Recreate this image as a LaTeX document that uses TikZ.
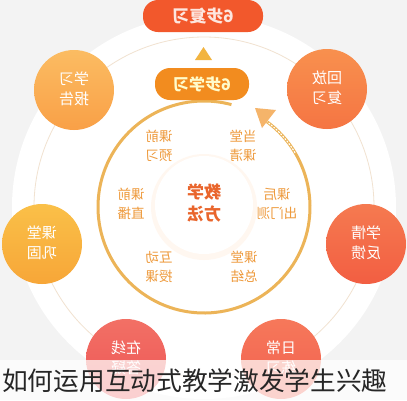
\documentclass[tikz,border=0pt]{standalone}
\usepackage{fontspec}
\usepackage{graphicx}
\usetikzlibrary{calc}
\newfontfamily\cjk{Noto Sans CJK SC}
\definecolor{bgc}{HTML}{F3F3F3}
\definecolor{faint}{HTML}{F1E2D0}
\definecolor{ringc}{HTML}{ECB458}
\definecolor{arrowc}{HTML}{F5B46A}
\definecolor{innertext}{HTML}{EE9A3C}
\definecolor{centertext}{HTML}{E9652C}
\definecolor{pillA}{HTML}{F2582C}
\definecolor{pillB}{HTML}{F28C1F}
\definecolor{triC}{HTML}{F2B440}
\definecolor{tlA}{HTML}{FBBC62}\definecolor{tlB}{HTML}{F9A047}
\definecolor{trA}{HTML}{F8904E}\definecolor{trB}{HTML}{F57543}
\definecolor{lmA}{HTML}{FAC048}\definecolor{lmB}{HTML}{F7A638}
\definecolor{rmA}{HTML}{F57A50}\definecolor{rmB}{HTML}{F25E42}
\definecolor{blA}{HTML}{F27065}\definecolor{blB}{HTML}{EE5556}
\definecolor{brA}{HTML}{F6785A}\definecolor{brB}{HTML}{F26050}
\newcommand\mtwo[2]{\reflectbox{\begin{tabular}{@{}c@{}}#1\\#2\end{tabular}}}
\tikzset{
  outer/.style n args={2}{circle, minimum size=80pt, inner sep=0pt, text=white,
    top color=#1, bottom color=#2, font=\cjk\fontsize{15}{20}\selectfont},
  innerlbl/.style={inner sep=0pt, text=innertext, font=\cjk\fontsize{13.5}{19}\selectfont},
  pill/.style={rounded corners=15pt, minimum height=32pt, inner sep=0pt}
}
\begin{document}
\begin{tikzpicture}[x=1pt,y=-1pt]
\useasboundingbox (0,0) rectangle (407,400);
\fill[bgc] (0,0) rectangle (407,400);
\coordinate (c) at (204,207);
\fill[white] (c) circle[radius=192];
\draw[faint, line width=0.8pt] (c) circle[radius=170];
% main ring
\draw[ringc, line width=3pt] ($(c)+(-54:106)$) arc[start angle=-54, end angle=285, radius=106];
\draw[white, line width=1.2pt, dotted, line cap=round] ($(c)+(-54:106)$) arc[start angle=-54, end angle=-30, radius=106];
\coordinate (a1) at (255,108);
\coordinate (a2) at (276,110);
\coordinate (a3) at (262,128);
\fill[arrowc] (a1) -- (a2) -- (a3) -- cycle;
% center disk
\fill[orange!6] (c) circle[radius=53];
\node[circle, fill=white, minimum size=98pt, inner sep=0pt,
  text=centertext, font=\cjk\bfseries\fontsize{17}{22}\selectfont] (ctr) at (204,205) {\mtwo{教学}{方法}};
% inner labels
\node[innerlbl] (i1) at (159,147) {\mtwo{课前}{预习}};
\node[innerlbl] (i2) at (243,147) {\mtwo{当堂}{课清}};
\node[innerlbl] (i3) at (131,205) {\mtwo{课前}{直播}};
\node[innerlbl] (i4) at (277,205) {\mtwo{课后}{出门测}};
\node[innerlbl] (i5) at (159,268) {\mtwo{互动}{授课}};
\node[innerlbl] (i6) at (244,268) {\mtwo{课堂}{总结}};
% outer circles
\node[outer={tlA}{tlB}] (o1) at (74,90) {\mtwo{学习}{报告}};
\node[outer={trA}{trB}] (o2) at (327,89) {\mtwo{回放}{复习}};
\node[outer={lmA}{lmB}] (o3) at (42,244) {\mtwo{课堂}{巩固}};
\node[outer={rmA}{rmB}] (o4) at (366,244) {\mtwo{学情}{反馈}};
\node[outer={blA}{blB}] (o5) at (126,359) {\mtwo{在线}{答疑}};
\node[outer={brA}{brB}] (o6) at (281,359) {\mtwo{日常}{练习}};
% pills
\node[pill, fill=pillA, minimum width=120pt, text=white!85!pillA,
  font=\cjk\bfseries\fontsize{17}{20}\selectfont] (p1) at (203,16) {\reflectbox{6步复习}};
\node[pill, fill=pillB, minimum width=94pt, text=white!80!yellow,
  font=\cjk\bfseries\fontsize{16}{20}\selectfont] (p2) at (202,84) {\reflectbox{6步学习}};
\coordinate (t1) at (203.5,47);
\coordinate (t2) at (195,60);
\coordinate (t3) at (212,60);
\fill[triC] (t1) -- (t2) -- (t3) -- cycle;
% caption band
\fill[white, opacity=0.72] (0,360) rectangle (407,400);
\node[anchor=west, inner sep=0pt, text=black!85,
  font=\cjk\fontsize{25.7}{30}\selectfont] (cap) at (2,381) {如何运用互动式教学激发学生兴趣};
\end{tikzpicture}
\end{document}
